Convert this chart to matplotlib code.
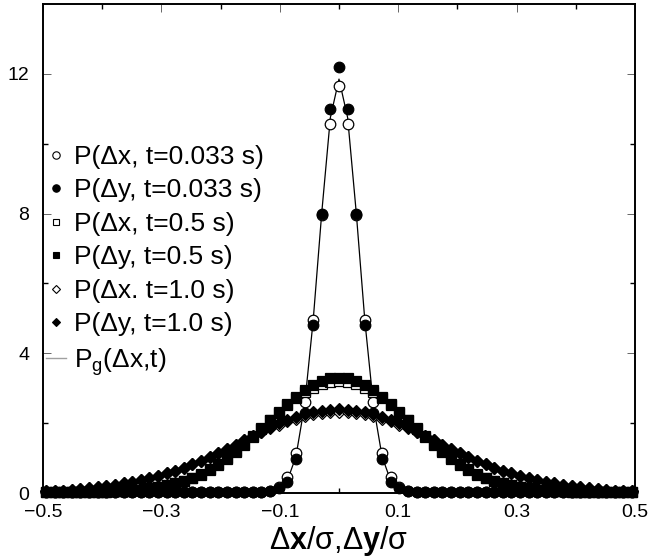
import numpy as np
import matplotlib.pyplot as plt
from matplotlib.lines import Line2D
from matplotlib.ticker import FixedLocator

plt.rcParams['font.family'] = ['Liberation Sans', 'DejaVu Sans']
plt.rcParams['mathtext.fontset'] = 'custom'
plt.rcParams['mathtext.rm'] = 'Liberation Sans'
plt.rcParams['mathtext.it'] = 'Liberation Sans'
plt.rcParams['mathtext.bf'] = 'Liberation Sans:bold'

# sample grid (dx/sigma), 69 bins across the window
dx = np.linspace(-0.495, 0.495, 69)

# values, centre bin first (j = 0 .. 34), profiles are symmetric
px_033 = [11.65, 10.57, 7.95, 4.95, 2.60, 1.14, 0.46, 0.17, 0.06, 0.03, 0.02, 0.02, 0.02, 0.02, 0.02, 0.02, 0.02, 0.02,
          0.02, 0.02, 0.02, 0.02, 0.02, 0.02, 0.02, 0.02, 0.02, 0.02, 0.02, 0.02, 0.02, 0.02, 0.02, 0.02, 0.02]
py_033 = [12.20, 11.00, 8.00, 4.80, 2.30, 0.97, 0.31, 0.15, 0.05, 0.03, 0.02, 0.02, 0.02, 0.02, 0.02, 0.02, 0.02, 0.02,
          0.02, 0.02, 0.02, 0.02, 0.02, 0.02, 0.02, 0.02, 0.02, 0.02, 0.02, 0.02, 0.02, 0.02, 0.02, 0.02, 0.02]
px_05 = [3.20, 3.18, 3.12, 3.02, 2.88, 2.71, 2.51, 2.30, 2.08, 1.85, 1.62, 1.40, 1.19, 1.00, 0.83, 0.68, 0.55, 0.44,
         0.35, 0.28, 0.22, 0.17, 0.13, 0.10, 0.08, 0.06, 0.05, 0.04, 0.03, 0.03, 0.02, 0.02, 0.02, 0.02, 0.02]
py_05 = [3.30, 3.28, 3.20, 3.09, 2.94, 2.75, 2.54, 2.31, 2.08, 1.84, 1.60, 1.37, 1.16, 0.97, 0.80, 0.65, 0.52, 0.43,
         0.35, 0.28, 0.22, 0.17, 0.13, 0.10, 0.08, 0.06, 0.05, 0.04, 0.03, 0.03, 0.02, 0.02, 0.02, 0.02, 0.02]
px_10 = [2.33, 2.32, 2.30, 2.26, 2.20, 2.13, 2.05, 1.96, 1.86, 1.75, 1.63, 1.51, 1.38, 1.26, 1.14, 1.03, 0.92, 0.82,
         0.73, 0.64, 0.56, 0.49, 0.43, 0.37, 0.32, 0.28, 0.24, 0.20, 0.17, 0.14, 0.11, 0.09, 0.07, 0.06, 0.05]
py_10 = [2.40, 2.39, 2.36, 2.32, 2.26, 2.18, 2.09, 1.99, 1.88, 1.76, 1.63, 1.51, 1.38, 1.26, 1.14, 1.03, 0.92, 0.82,
         0.73, 0.64, 0.56, 0.49, 0.43, 0.37, 0.32, 0.28, 0.24, 0.20, 0.17, 0.14, 0.11, 0.09, 0.07, 0.06, 0.05]
# gaussian fits P_g
pg_033 = [11.85, 10.75, 8.03, 4.93, 2.50, 1.04, 0.35, 0.10, 0.02, 0.0, 0.0, 0.0, 0.0, 0.0, 0.0, 0.0, 0.0, 0.0,
          0.0, 0.0, 0.0, 0.0, 0.0, 0.0, 0.0, 0.0, 0.0, 0.0, 0.0, 0.0, 0.0, 0.0, 0.0, 0.0, 0.0]
pg_05 = [3.25, 3.23, 3.16, 3.05, 2.91, 2.73, 2.52, 2.30, 2.08, 1.84, 1.61, 1.38, 1.17, 0.98, 0.81, 0.66, 0.53, 0.42,
         0.33, 0.25, 0.19, 0.14, 0.10, 0.07, 0.05, 0.04, 0.03, 0.02, 0.01, 0.01, 0.01, 0.0, 0.0, 0.0, 0.0]
pg_10 = [2.37, 2.36, 2.33, 2.29, 2.23, 2.16, 2.07, 1.97, 1.86, 1.74, 1.62, 1.49, 1.36, 1.24, 1.12, 1.00, 0.89, 0.78,
         0.68, 0.59, 0.51, 0.43, 0.37, 0.31, 0.26, 0.21, 0.18, 0.14, 0.12, 0.09, 0.07, 0.06, 0.05, 0.04, 0.03]

labels = ['P(Δx, t=0.033 s)', 'P(Δy, t=0.033 s)', 'P(Δx, t=0.5 s)', 'P(Δy, t=0.5 s)',
          'P(Δx. t=1.0 s)', 'P(Δy, t=1.0 s)', r'P$_\mathrm{g}$(Δx,t)']
xticks = [-0.5, -0.3, -0.1, 0.1, 0.3, 0.5]
yticks = [0, 4, 8, 12]


def mirror(half):
    return np.array(half[:0:-1] + half)


fig = plt.figure(figsize=(6.49, 5.57), dpi=100)
ax = fig.add_axes([43/649, 64/557, 592/649, 489/557])

# fit curves underneath the markers
ax.plot(dx, mirror(pg_033), color='k', lw=0.9, zorder=1)
ax.plot(dx, mirror(pg_05), color='#8a8a8a', lw=1.0, zorder=1)
ax.plot(dx, mirror(pg_10), color='#8a8a8a', lw=1.0, zorder=1)

styles = [('o', 7.6, 'white'), ('o', 7.6, 'k'),
          ('s', 6.8, 'white'), ('s', 6.8, 'k'),
          ('D', 5.8, 'white'), ('D', 5.8, 'k')]
series = [px_033, py_033, px_05, py_05, px_10, py_10]
handles = []
for (m, ms, fc), vals in zip(styles, series):
    ax.plot(dx, mirror(vals), ls='none', marker=m, ms=ms, mfc=fc, mec='k', mew=0.9,
            zorder=2, clip_on=False)
    handles.append(Line2D([], [], ls='none', marker=m, ms=ms*0.7, mfc=fc, mec='k', mew=0.8))
handles.append(Line2D([], [], color='#a0a0a0', lw=1.0))

ax.set_xlim(-0.5, 0.5)
ax.set_ylim(0, 14)
ax.xaxis.set_major_locator(FixedLocator(xticks))
ax.xaxis.set_minor_locator(FixedLocator([-0.4, -0.2, 0.0, 0.2, 0.4]))
ax.yaxis.set_major_locator(FixedLocator(yticks))
ax.yaxis.set_minor_locator(FixedLocator([2, 6, 10]))
ax.tick_params(which='both', direction='in', top=True, right=True)
ax.tick_params(which='major', length=6, width=0.7, color='#666666', labelsize=14)
ax.tick_params(axis='y', which='major', pad=10)
ax.tick_params(axis='x', which='major', pad=8)
ax.tick_params(which='minor', length=3.5, width=1.0, color='k')
for s in ax.spines.values():
    s.set_linewidth(1.4)

ax.set_xlabel(r'$\Delta\mathbf{x}/\sigma{,}\Delta\mathbf{y}/\sigma$', fontsize=22, va='center')
ax.xaxis.set_label_coords(0.5, -0.098)

ax.legend(handles, labels, loc='upper left', bbox_to_anchor=(0.005, 0.712), frameon=False,
          fontsize=19, handlelength=0.75, handletextpad=0.3, labelspacing=0.36,
          borderpad=0, borderaxespad=0, numpoints=1)

fig.savefig('out.png', dpi=100)
